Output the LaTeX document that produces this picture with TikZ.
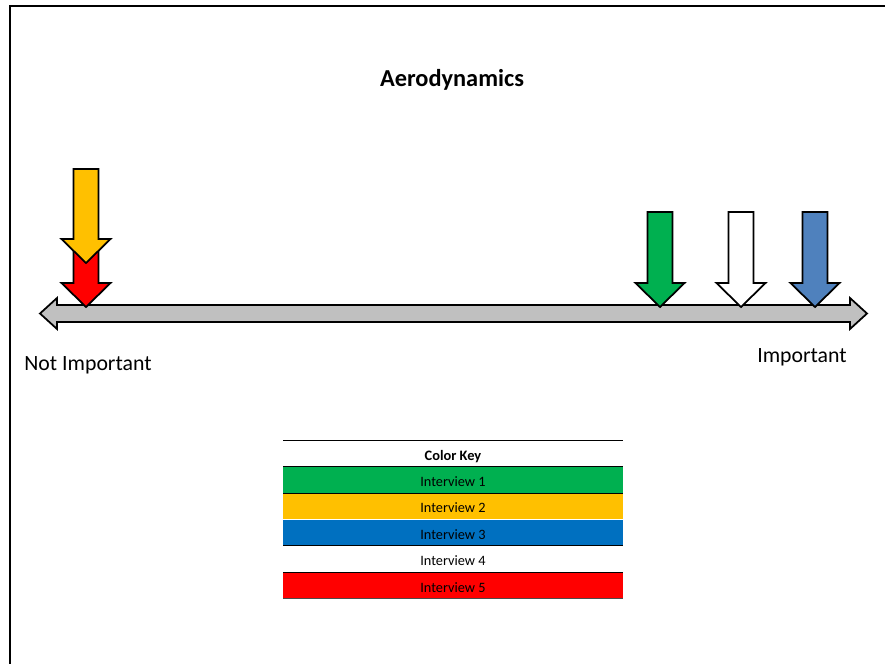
\documentclass[tikz,border=0pt]{standalone}
\usepackage{fontspec}
\setmainfont{Carlito}

\definecolor{bargray}{HTML}{C0C0C0}
\definecolor{intgreen}{HTML}{00B050}
\definecolor{intyellow}{HTML}{FFC000}
\definecolor{intblue}{HTML}{0070C0}
\definecolor{arrowblue}{HTML}{4F81BD}
\definecolor{intred}{HTML}{FF0000}

% block arrow pointing down: x, top y, tip y, fill colour
\newcommand{\markarrow}[4]{%
  \filldraw[fill=#4, line width=1.5pt, line join=miter]
    (#1-12.5,#2) -- (#1+12.5,#2) -- (#1+12.5,#3-24) -- (#1+24.5,#3-24)
    -- (#1,#3) -- (#1-24.5,#3-24) -- (#1-12.5,#3-24) -- cycle;}

\tikzset{
  keyrow/.style={minimum width=10.17cm, minimum height=0.78cm, inner sep=0pt,
    text height=11.5pt, text depth=0pt, font=\fontsize{12.2pt}{14pt}\selectfont},
}

\begin{document}
\begin{tikzpicture}[x=0.03cm, y=-0.03cm]
    \useasboundingbox (0,0) rectangle (885,664);

    % frame
    \draw[line width=1.5pt] (10,664) -- (10,6) -- (885,6);

    \node[font=\fontsize{20.8pt}{24pt}\selectfont\bfseries] (title) at (452,80) {Aerodynamics};

    % scale bar
    \filldraw[fill=bargray, line width=1.5pt, line join=miter]
      (40,313.5) -- (57,298) -- (57,305) -- (850,305) -- (850,298) -- (867,313.5)
      -- (850,329) -- (850,322) -- (57,322) -- (57,329) -- cycle;
    \node[font=\fontsize{18.6pt}{22pt}\selectfont] (lo) at (88,365) {Not Important};
    \node[font=\fontsize{18.6pt}{22pt}\selectfont] (hi) at (802,357) {Important};

    % interview marks
    \markarrow{86}{250}{307}{intred}
    \markarrow{86}{169}{263}{intyellow}
    \markarrow{660}{212}{307}{intgreen}
    \markarrow{741}{212}{307}{white}
    \markarrow{815}{212}{307}{arrowblue}

    % colour key
    \node[keyrow, font=\fontsize{12.3pt}{14pt}\selectfont\bfseries] (keyhead) at (453,453.5) {Color Key};
    \node[keyrow, fill=intgreen] (int1) at (453,480) {Interview 1};
    \node[keyrow, fill=intyellow] (int2) at (453,506) {Interview 2};
    \node[keyrow, fill=intblue] (int3) at (453,532.5) {Interview 3};
    \node[keyrow] (int4) at (453,559) {Interview 4};
    \node[keyrow, fill=intred] (int5) at (453,585.5) {Interview 5};

    \draw (keyhead.north west) -- (keyhead.north east);
    \draw[line width=0.9pt] (int1.north west) -- (int1.north east);
    \draw[line width=0.9pt] (int1.south west) -- (int1.south east);
    \draw[line width=0.9pt] (int3.south west) -- (int3.south east);
    \draw[line width=0.9pt] (int5.north west) -- (int5.north east);
    \draw[line width=0.9pt, black!70] (int5.south west) -- (int5.south east);
\end{tikzpicture}
\end{document}
